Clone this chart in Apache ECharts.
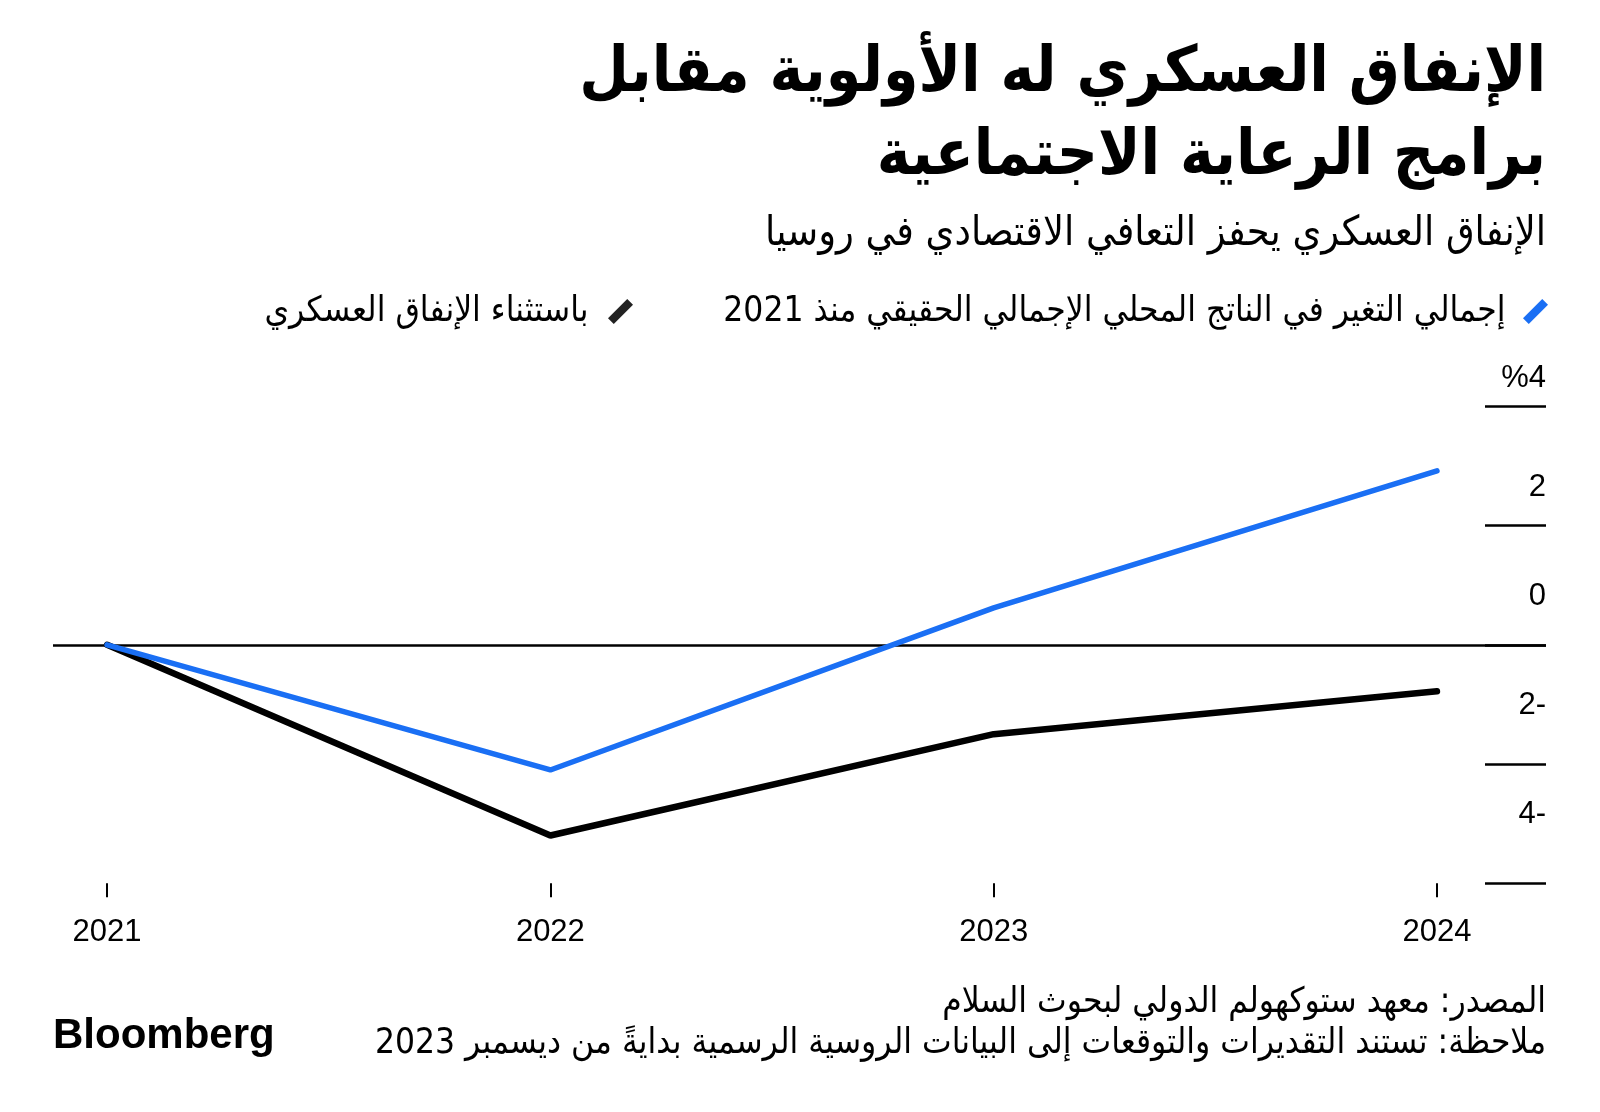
<!DOCTYPE html>
<html>
<head>
<meta charset="utf-8">
<script src="https://cdn.jsdelivr.net/npm/echarts@6/dist/echarts.min.js"></script>
<style>
  html, body { margin: 0; padding: 0; background: #fff; }
  #chart { width: 1600px; height: 1112px; }
</style>
</head>
<body>
<div id="chart"></div>
<script>
// ---- data ----
const years = [2021, 2022, 2023, 2024];
const totalGdpChange = [0, -2.1, 0.62, 2.92];       // إجمالي التغير في الناتج المحلي الإجمالي الحقيقي منذ 2021
const excludingMilitary = [0, -3.2, -1.5, -0.78];  // باستثناء الإنفاق العسكري
const yTickValues = [-4, -2, 0, 2, 4];
const yTickLabels = ['4-', '2-', '0', '2', '%4'];
const xTickLabels = ['2021', '2022', '2023', '2024'];

const titleText = 'الإنفاق العسكري له الأولوية مقابل\nبرامج الرعاية الاجتماعية';
const subtitleText = 'الإنفاق العسكري يحفز التعافي الاقتصادي في روسيا';
const seriesNames = ['إجمالي التغير في الناتج المحلي الإجمالي الحقيقي منذ 2021', 'باستثناء الإنفاق العسكري'];
const footerText = 'المصدر: معهد ستوكهولم الدولي لبحوث السلام\nملاحظة: تستند التقديرات والتوقعات إلى البيانات الروسية الرسمية بدايةً من ديسمبر 2023';

const AR = "'DejaVu Sans Condensed', 'DejaVu Sans', sans-serif";
const LAT = "'Liberation Sans', Arial, sans-serif";
const BLUE = '#1a6ff4';

const chart = echarts.init(document.getElementById('chart'), null, { renderer: 'canvas' });

const legendIcon = 'path://M20,0 L26,6 L6,26 L0,20 Z';

const option = {
  animation: false,
  backgroundColor: '#ffffff',
  title: [
    { text: titleText, left: 1546, top: 116, padding: 0, textAlign: 'right', textVerticalAlign: 'middle',
      textStyle: { fontFamily: AR, fontSize: 63.5, fontWeight: 'bold', color: '#000', lineHeight: 83 } },
    { text: subtitleText, left: 1546, top: 234, padding: 0, textAlign: 'right', textVerticalAlign: 'middle',
      textStyle: { fontFamily: AR, fontSize: 41, fontWeight: 'normal', color: '#000' } },
    { text: footerText, left: 1546, top: 1023, padding: 0, textAlign: 'right', textVerticalAlign: 'middle',
      textStyle: { fontFamily: AR, fontSize: 35, fontWeight: 'normal', color: '#000', lineHeight: 41 } },
    { text: 'Bloomberg', left: 53, top: 1036, padding: 0, textAlign: 'left', textVerticalAlign: 'middle',
      textStyle: { fontFamily: LAT, fontSize: 42, fontWeight: 'bold', color: '#000' } }
  ],
  legend: [
    { data: [{ name: seriesNames[0], itemStyle: { color: BLUE } }], right: 52, top: 294, orient: 'horizontal',
      align: 'right', padding: 0, itemWidth: 26, itemHeight: 25, icon: legendIcon,
      textStyle: { fontFamily: AR, fontSize: 35, color: '#000', padding: [0, 12, 0, 0] } },
    { data: [{ name: seriesNames[1], itemStyle: { color: '#222' } }], right: 967, top: 294, orient: 'horizontal',
      align: 'right', padding: 0, itemWidth: 26, itemHeight: 25, icon: legendIcon,
      textStyle: { fontFamily: AR, fontSize: 35, color: '#000', padding: [0, 14, 0, 0] } }
  ],
  grid: [
    { left: 53, right: 54, top: 406.4, height: 476.8, containLabel: false },
    { left: 53, right: 54, top: 378.6, height: 435.7, containLabel: false }
  ],
  xAxis: [
    { type: 'value', gridIndex: 0, min: 2020.878, max: 2024.246,
      axisLine: { show: false, onZero: false }, splitLine: { show: false },
      axisTick: { show: true, customValues: years, length: 14, lineStyle: { color: '#000', width: 2 } },
      axisLabel: { show: true, customValues: years, margin: 34,
        formatter: v => xTickLabels[years.indexOf(v)],
        fontFamily: LAT, fontSize: 31, color: '#000' } },
    { type: 'value', gridIndex: 1, min: 0, max: 1, show: false }
  ],
  yAxis: [
    { type: 'value', gridIndex: 0, position: 'right', min: -4, max: 4, interval: 2,
      axisLine: { show: false, onZero: false }, splitLine: { show: false },
      axisTick: { show: true, inside: true, length: 61, lineStyle: { color: '#000', width: 2.5 } },
      axisLabel: { show: false } },
    { type: 'value', gridIndex: 1, position: 'right', min: -4, max: 4, interval: 2,
      axisLine: { show: false, onZero: false }, splitLine: { show: false }, axisTick: { show: false },
      axisLabel: { show: true, inside: true, margin: 0, align: 'right',
        formatter: v => yTickLabels[yTickValues.indexOf(v)],
        fontFamily: LAT, fontSize: 31, color: '#000' } }
  ],
  series: [
    { name: seriesNames[1], type: 'line', xAxisIndex: 0, yAxisIndex: 0,
      data: years.map((y, i) => [y, excludingMilitary[i]]),
      symbol: 'none', lineStyle: { color: '#000', width: 6.5, cap: 'round' }, itemStyle: { color: '#000' },
      markLine: { silent: true, symbol: 'none', z: 1, label: { show: false },
        lineStyle: { color: '#000', width: 2.5, type: 'solid' }, data: [{ yAxis: 0 }] } },
    { name: seriesNames[0], type: 'line', xAxisIndex: 0, yAxisIndex: 0,
      data: years.map((y, i) => [y, totalGdpChange[i]]),
      symbol: 'none', lineStyle: { color: BLUE, width: 5.5, cap: 'round' }, itemStyle: { color: BLUE } }
  ]
};
chart.setOption(option);
</script>
</body>
</html>
